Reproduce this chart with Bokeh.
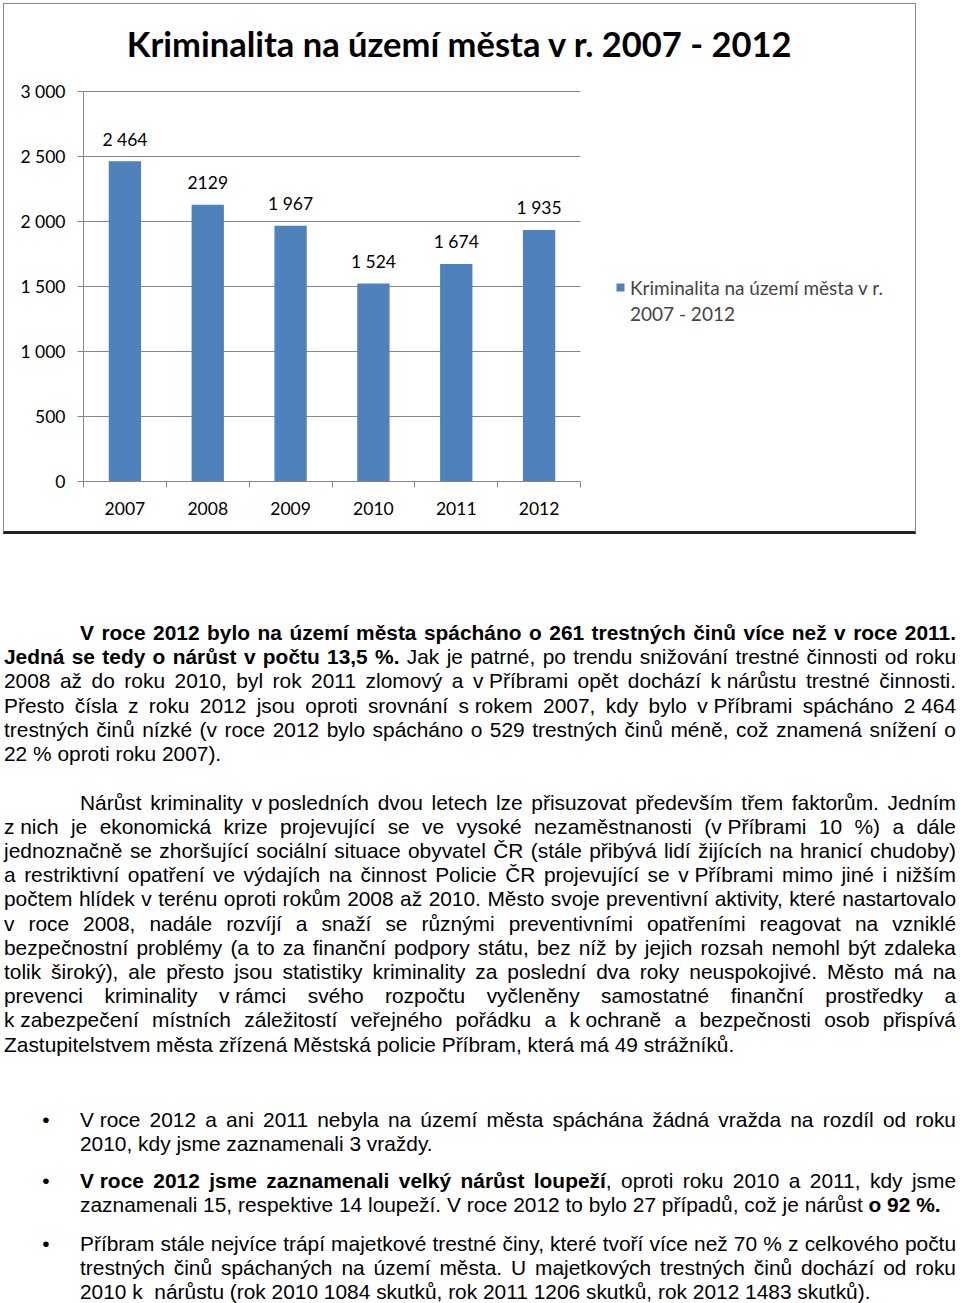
import re
from bokeh.plotting import figure
from bokeh.models import (FixedTicker, Label, LabelSet, Legend, Div, ColumnDataSource, Range1d)
from bokeh.layouts import column
from bokeh.embed import file_html
from bokeh.resources import INLINE
from bokeh.core.properties import value

# ---------------- data ----------------
years = ["2007", "2008", "2009", "2010", "2011", "2012"]
counts = [2464, 2129, 1967, 1524, 1674, 1935]
count_labels = ["2 464", "2129", "1 967", "1 524", "1 674", "1 935"]
y_ticks = [0, 500, 1000, 1500, 2000, 2500, 3000]
y_tick_labels = ["0", "500", "1 000", "1 500", "2 000", "2 500", "3 000"]
chart_title = "Kriminalita na území města v r. 2007 - 2012"
legend_line1 = "Kriminalita na území města v r."
legend_line2 = "2007 - 2012"

NB = "\u00a0"
para1_lines = [
    "**V roce 2012 bylo na území města spácháno o 261 trestných činů více než v roce 2011.**",
    "**Jedná se tedy o nárůst v počtu 13,5 %.** Jak je patrné, po trendu snižování trestné činnosti od roku",
    f"2008 až do roku 2010, byl rok 2011 zlomový a v{NB}Příbrami opět dochází k{NB}nárůstu trestné činnosti.",
    f"Přesto čísla z roku 2012 jsou oproti srovnání s{NB}rokem 2007, kdy bylo v{NB}Příbrami spácháno 2{NB}464",
    "trestných činů nízké (v roce 2012 bylo spácháno o 529 trestných činů méně, což znamená snížení o",
    "22 % oproti roku 2007).",
]
para2_lines = [
    f"Nárůst kriminality v{NB}posledních dvou letech lze přisuzovat především třem faktorům. Jedním",
    f"z{NB}nich je ekonomická krize projevující se ve vysoké nezaměstnanosti (v{NB}Příbrami 10 %) a dále",
    "jednoznačně se zhoršující sociální situace obyvatel ČR (stále přibývá lidí žijících na hranicí chudoby)",
    f"a restriktivní opatření ve výdajích na činnost Policie ČR projevující se v{NB}Příbrami mimo jiné i nižším",
    "počtem hlídek v terénu oproti rokům 2008 až 2010. Město svoje preventivní aktivity, které nastartovalo",
    "v roce 2008, nadále rozvíjí a snaží se různými preventivními opatřeními reagovat na vzniklé",
    "bezpečnostní problémy (a to za finanční podpory státu, bez níž by jejich rozsah nemohl být zdaleka",
    "tolik široký), ale přesto jsou statistiky kriminality za poslední dva roky neuspokojivé. Město má na",
    f"prevenci kriminality v{NB}rámci svého rozpočtu vyčleněny samostatné finanční prostředky a",
    f"k{NB}zabezpečení místních záležitostí veřejného pořádku a k{NB}ochraně a bezpečnosti osob přispívá",
    "Zastupitelstvem města zřízená Městská policie Příbram, která má 49 strážníků.",
]
bullet1_lines = [
    f"V{NB}roce 2012 a ani 2011 nebyla na území města spáchána žádná vražda na rozdíl od roku",
    "2010, kdy jsme zaznamenali 3 vraždy.",
]
bullet2_lines = [
    f"**V{NB}roce 2012 jsme zaznamenali velký nárůst loupeží**, oproti roku 2010 a 2011, kdy jsme",
    "zaznamenali 15, respektive 14 loupeží. V roce 2012 to bylo 27 případů, což je nárůst **o 92 %.**",
]
bullet3_lines = [
    "Příbram stále nejvíce trápí majetkové trestné činy, které tvoří více než 70 % z celkového počtu",
    "trestných činů spáchaných na území města. U majetkových trestných činů dochází od roku",
    f"2010 k{NB} nárůstu (rok 2010 1084 skutků, rok 2011 1206 skutků, rok 2012 1483 skutků).",
]

# ---------------- chart ----------------
FONT = "Lato"
BLUE = "#4F81BD"
GRID = "#868686"
TICK_FS = "17.5px"

W, H = 913, 531
MARGIN_TOP, MARGIN_LEFT = 3, 3
BORDER_LEFT, BORDER_BOTTOM = 79, 54
FRAME_W = W - BORDER_LEFT            # frame spans to the right edge
FRAME_H = H - BORDER_BOTTOM          # frame spans to the top edge
PLOT_W, PLOT_H = 497, 390            # pixel size of the bar-plot area inside the frame

centers = [i + 0.5 for i in range(len(years))]
n = len(years)
y_max = y_ticks[-1]

p = figure(width=W, height=H,
           x_range=Range1d(0, n * FRAME_W / PLOT_W),
           y_range=Range1d(0, y_max * FRAME_H / PLOT_H),
           output_backend="svg", toolbar_location=None,
           min_border_left=BORDER_LEFT, min_border_right=0, min_border_top=0,
           min_border_bottom=BORDER_BOTTOM)
p.margin = (MARGIN_TOP, 0, 0, MARGIN_LEFT)
p.outline_line_color = None
p.background_fill_color = "white"
p.border_fill_color = "white"
p.styles = {"border": "1px solid #8a8a8a", "border-bottom": "3px solid #222222",
            "box-sizing": "border-box"}

src = ColumnDataSource(dict(x=centers, year=years, count=counts, label=count_labels))
bars = p.vbar(x="x", top="count", width=0.39, source=src, fill_color=BLUE, line_color=None)
# invisible companion renderer, only used to hold the second legend line
blank = p.vbar(x=[], top=[], width=0.39, fill_alpha=0, line_alpha=0)

p.add_layout(LabelSet(x="x", y="count", text="label", source=src, text_align="center",
                      text_baseline="middle", y_offset=22, text_font=value(FONT),
                      text_font_size=TICK_FS, text_color="black"))

xa = p.xaxis[0]
xa.bounds = (0, n)
xa.ticker = FixedTicker(ticks=centers, minor_ticks=list(range(n + 1)))
xa.major_label_overrides = {c: y for c, y in zip(centers, years)}
xa.major_tick_out = 0
xa.major_tick_in = 0
xa.minor_tick_out = 6
xa.minor_tick_in = 0
xa.axis_line_color = GRID
xa.minor_tick_line_color = GRID
xa.major_label_standoff = 14
xa.major_label_text_font = FONT
xa.major_label_text_font_size = TICK_FS
xa.major_label_text_color = "black"

ya = p.yaxis[0]
ya.bounds = (0, y_max)
ya.ticker = FixedTicker(ticks=y_ticks, minor_ticks=[])
ya.major_label_overrides = dict(zip(y_ticks, y_tick_labels))
ya.major_tick_out = 6
ya.major_tick_in = 0
ya.minor_tick_out = 0
ya.minor_tick_in = 0
ya.axis_line_color = GRID
ya.major_tick_line_color = GRID
ya.major_label_standoff = 12
ya.major_label_text_font = FONT
ya.major_label_text_font_size = TICK_FS
ya.major_label_text_color = "black"

p.xgrid.visible = False
p.ygrid.ticker = FixedTicker(ticks=y_ticks)
p.ygrid.bounds = (0, y_max)
p.ygrid.cross_bounds = (0, n)
p.ygrid.grid_line_color = GRID

# chart title (inside the enlarged frame, screen units from the frame's bottom-left)
p.add_layout(Label(x=376.5, y=438.5, x_units="screen", y_units="screen", text=chart_title,
                   text_align="center", text_baseline="middle", text_font=FONT,
                   text_font_size="34.5px", text_font_style="bold", text_color="black"))

legend = Legend(items=[(legend_line1, [bars]), (legend_line2, [blank])], location=(532, 156),
                glyph_width=10, glyph_height=10, label_standoff=5, padding=0, margin=0,
                spacing=2, border_line_color=None, background_fill_alpha=0,
                label_text_font=FONT, label_text_font_size="19px", label_height=24)
p.add_layout(legend)

# ---------------- text block ----------------
DIV_TOP = MARGIN_TOP + H     # y of the Div top in the picture
DIV_LEFT = 4
DIV_W = 952
PITCH = 24.2
FS = 20.9


def fmt(s):
    parts = s.split("**")
    out = []
    for i, part in enumerate(parts):
        part = re.sub(r"(\S+(?:\u00a0\S+)+)",
                      lambda m: '<span style="display:inline-block">' + m.group(1) + "</span>",
                      part)
        out.append("<b>" + part + "</b>" if i % 2 else part)
    return "".join(out)


def line_div(text, ref_left, ref_center, justify):
    left = ref_left - DIV_LEFT
    top = ref_center - 12.0 - DIV_TOP
    width = DIV_W - left
    align = "text-align:justify;text-align-last:justify;" if justify else "text-align:left;"
    return (f'<div style="position:absolute;left:{left:.1f}px;top:{top:.1f}px;'
            f'width:{width:.1f}px;height:{PITCH}px;line-height:{PITCH}px;{align}">'
            f"{fmt(text)}</div>")


html = []
for i, t in enumerate(para1_lines):
    html.append(line_div(t, 80 if i == 0 else 4, 633 + i * PITCH, i < len(para1_lines) - 1))
for i, t in enumerate(para2_lines):
    html.append(line_div(t, 80 if i == 0 else 4, 802.5 + i * PITCH, i < len(para2_lines) - 1))
for start, lines in [(1119.5, bullet1_lines), (1181, bullet2_lines), (1244, bullet3_lines)]:
    btop = start - 12.0 - DIV_TOP
    html.append(f'<div style="position:absolute;left:{38 - DIV_LEFT}px;top:{btop:.1f}px;'
                f'width:16px;height:{PITCH}px;line-height:{PITCH}px;text-align:center;">•</div>')
    for i, t in enumerate(lines):
        html.append(line_div(t, 80, start + i * PITCH, i < len(lines) - 1))

DIV_H = 1303 - DIV_TOP
container = (f'<div style="position:relative;width:{DIV_W}px;height:{DIV_H}px;'
             f"font-family:'Liberation Sans',Arial,sans-serif;font-size:{FS}px;color:#000;\">"
             + "".join(html) + "</div>")
div = Div(text=container, width=DIV_W, height=DIV_H, margin=(0, 0, 0, DIV_LEFT))

layout = column(p, div, spacing=0)
open("out.html", "w").write(file_html(layout, INLINE))
